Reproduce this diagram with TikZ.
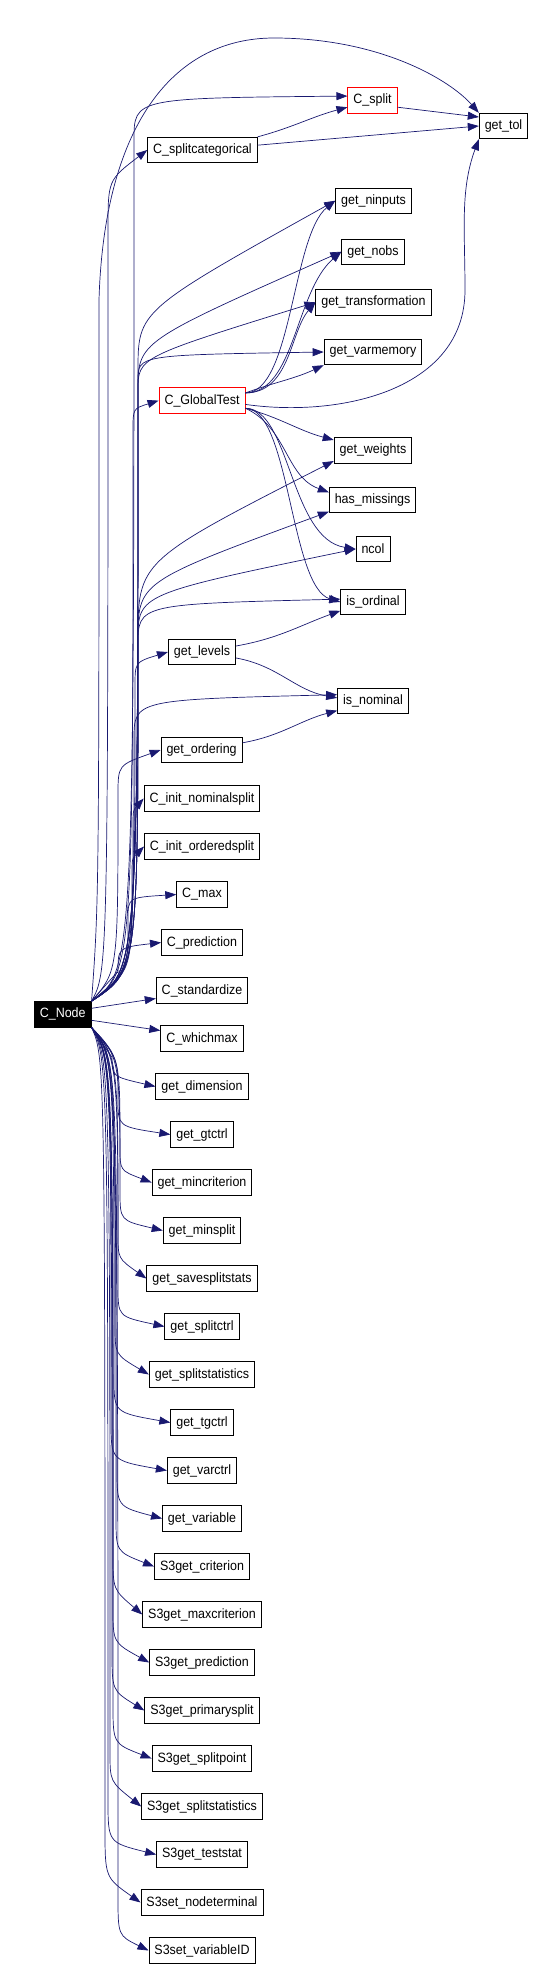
\documentclass[tikz,border=0pt]{standalone}
\usepackage{fontspec}
\setmainfont{Liberation Sans}
\newfontfamily\fnfont{Liberation Sans}[FakeStretch=0.925]
\usetikzlibrary{arrows.meta,calc}
\definecolor{CallBlue}{RGB}{25, 25, 112}
\definecolor{HotRed}{RGB}{255, 0, 0}

\begin{document}
\begin{tikzpicture}[
    x=1pt, y=-1pt,
    fn/.style={rectangle, draw=black, fill=white, line width=0.9pt, minimum height=25.5pt, inner xsep=5.5pt, inner ysep=0pt, font=\fnfont\fontsize{13.5}{15}\selectfont},
    hotfn/.style={fn, draw=HotRed},
    rootfn/.style={fn, fill=black, text=white},
    call/.style={draw=CallBlue, line width=0.7pt, -{Triangle[length=11pt, width=8pt]}},
    fan/.style n args={3}{to path={.. controls ($(#1,0 |- \tikztostart)!30pt!(#1,0 |- \tikztotarget)$) .. ($(#1,0 |- \tikztotarget)+(0,#2)$) .. controls ($(#1,0 |- \tikztotarget)+(0,#3)$) .. (\tikztotarget) \tikztonodes}},
    rise/.style 2 args={to path={.. controls (#1,0 |- \tikztostart) and ($(#1,0 |- \tikztotarget)+(0,#2)$) .. (\tikztotarget) \tikztonodes}}
]
\useasboundingbox (0,0) rectangle (544,1968);

% === CALLER ===
\node[rootfn] (cnode) at (62.7,1014.3) {C\_Node};

% === UPPER FUNCTIONS ===
\node[hotfn] (csplit) at (372.5,100.5) {C\_split};
\node[fn] (gettol) at (503.5,126) {get\_tol};
\node[fn] (csplitcat) at (202.5,150) {C\_splitcategorical};
\node[fn] (getninputs) at (373.5,200.7) {get\_ninputs};
\node[fn] (getnobs) at (373,251.7) {get\_nobs};
\node[fn] (gettransformation) at (373.4,302.3) {get\_transformation};
\node[fn] (getvarmemory) at (373,352) {get\_varmemory};
\node[hotfn] (cglobaltest) at (202,400.6) {C\_GlobalTest};
\node[fn] (getweights) at (373,450.5) {get\_weights};
\node[fn] (hasmissings) at (372.6,500) {has\_missings};
\node[fn] (ncol) at (373,549) {ncol};
\node[fn] (isordinal) at (373,602) {is\_ordinal};
\node[fn] (getlevels) at (202,652) {get\_levels};
\node[fn] (isnominal) at (373,701) {is\_nominal};
\node[fn] (getordering) at (201.6,750) {get\_ordering};

% === MIDDLE COLUMN ===
\foreach \fid/\fname [count=\k from 0] in {
    cinitnominal/C\_init\_nominalsplit, cinitordered/C\_init\_orderedsplit,
    cmax/C\_max, cprediction/C\_prediction, cstandardize/C\_standardize,
    cwhichmax/C\_whichmax, getdimension/get\_dimension, getgtctrl/get\_gtctrl,
    getmincriterion/get\_mincriterion, getminsplit/get\_minsplit,
    getsavesplitstats/get\_savesplitstats, getsplitctrl/get\_splitctrl,
    getsplitstatistics/get\_splitstatistics, gettgctrl/get\_tgctrl,
    getvarctrl/get\_varctrl, getvariable/get\_variable,
    sgetcriterion/S3get\_criterion, sgetmaxcriterion/S3get\_maxcriterion,
    sgetprediction/S3get\_prediction, sgetprimarysplit/S3get\_primarysplit,
    sgetsplitpoint/S3get\_splitpoint, sgetsplitstatistics/S3get\_splitstatistics,
    sgetteststat/S3get\_teststat, ssetnodeterminal/S3set\_nodeterminal,
    ssetvariableid/S3set\_variableID}
  \node[fn] (\fid) at (202, 798.5+48*\k) {\fname};

% === CALLS FROM C_Node ===
% upwards
\foreach \callee/\lane/\dy/\dq in {csplitcat.west/108/80/30, cglobaltest.west/133/30/8, getlevels.west/135/35/10, getordering.west/118/45/15, cinitnominal.west/133/30/12, cinitordered.west/132/30/12, cmax.west/128/25/3, cprediction.west/118/30/5,
    csplit.170/134/44/2, getninputs.west/138/170/110, getnobs.west/138/138/90, gettransformation.west/138/88/55, getvarmemory.west/138/28/3, getweights.195/138/179/100, hasmissings.195/138/128/70, ncol.west/138/91/45, isordinal.175/138/46/5, isnominal.170/134/45/5}
  \draw[call] (cnode.north east) to[fan={\lane}{\dy}{\dq}] (\callee);
\draw[call] ([yshift=6pt]cnode.east) -- ([yshift=-8pt]cstandardize.west);
\draw[call] ([yshift=-6pt]cnode.east) -- ([yshift=8pt]cwhichmax.west);
% downwards
\foreach \callee/\lane/\dy/\dq in {getdimension/112/-30/-10, getgtctrl/118/-35/-8, getmincriterion/120/-35/-12, getminsplit/120/-40/-10, getsavesplitstats/118/-45/-20, getsplitctrl/118/-40/-10, getsplitstatistics/115/-50/-20, gettgctrl/114/-45/-10, getvarctrl/111/-50/-10, getvariable/117/-50/-12, sgetcriterion/116/-50/-15, sgetmaxcriterion/113/-60/-25, sgetprediction/113/-55/-20, sgetprimarysplit/112/-60/-20, sgetsplitpoint/113/-55/-15, sgetsplitstatistics/110/-55/-25, sgetteststat/108/-55/-12, ssetnodeterminal/105/-75/-25, ssetvariableid/118/-55/-15}
  \draw[call] (cnode.south east) to[fan={\lane}{\dy}{\dq}] (\callee.west);

\coordinate (tolbend) at (99,300);
\coordinate (toltop) at (274,38);
\draw[call] (cnode.north east) .. controls (99,900) .. (tolbend) .. controls (104,130) and (170,38) .. (toltop) .. controls (380,38) and (450,80) .. (gettol.north west);

% === CALLS FROM C_GlobalTest ===
\draw[call] (cglobaltest.10) to[rise={292}{35}] (getninputs.west);
\draw[call] (cglobaltest.10) to[rise={295}{40}] (getnobs.west);
\draw[call] (cglobaltest.10) to[rise={290}{30}] (gettransformation.west);
\draw[call] (cglobaltest.10) to[out=20, in=205] (getvarmemory.south west);
\draw[call] (cglobaltest.350) to[out=-15, in=165] (getweights.165);
\draw[call] (cglobaltest.350) to[out=-25, in=160] (hasmissings.170);
\draw[call] (cglobaltest.350) to[rise={290}{-10}] (ncol.west);
\draw[call] (cglobaltest.350) to[rise={290}{-15}] (isordinal.west);
\coordinate (gtbend) at (465,290);
\draw[call] (cglobaltest.355) .. controls (340,418) and (465,390) .. (gtbend) .. controls (465,230) and (460,190) .. (gettol.south west);

% === OTHER CALLS ===
\draw[call] (csplit.345) -- (gettol.160);
\draw[call] (csplitcat.5) -- (gettol.west);
\draw[call] (csplitcat.north east) to[out=15, in=195] (csplit.195);
\draw[call] (getlevels.10) to[out=10, in=200] (isordinal.195);
\draw[call] (getlevels.350) to[out=-10, in=170] (isnominal.175);
\draw[call] (getordering.10) to[out=10, in=195] (isnominal.195);

\end{tikzpicture}
\end{document}
